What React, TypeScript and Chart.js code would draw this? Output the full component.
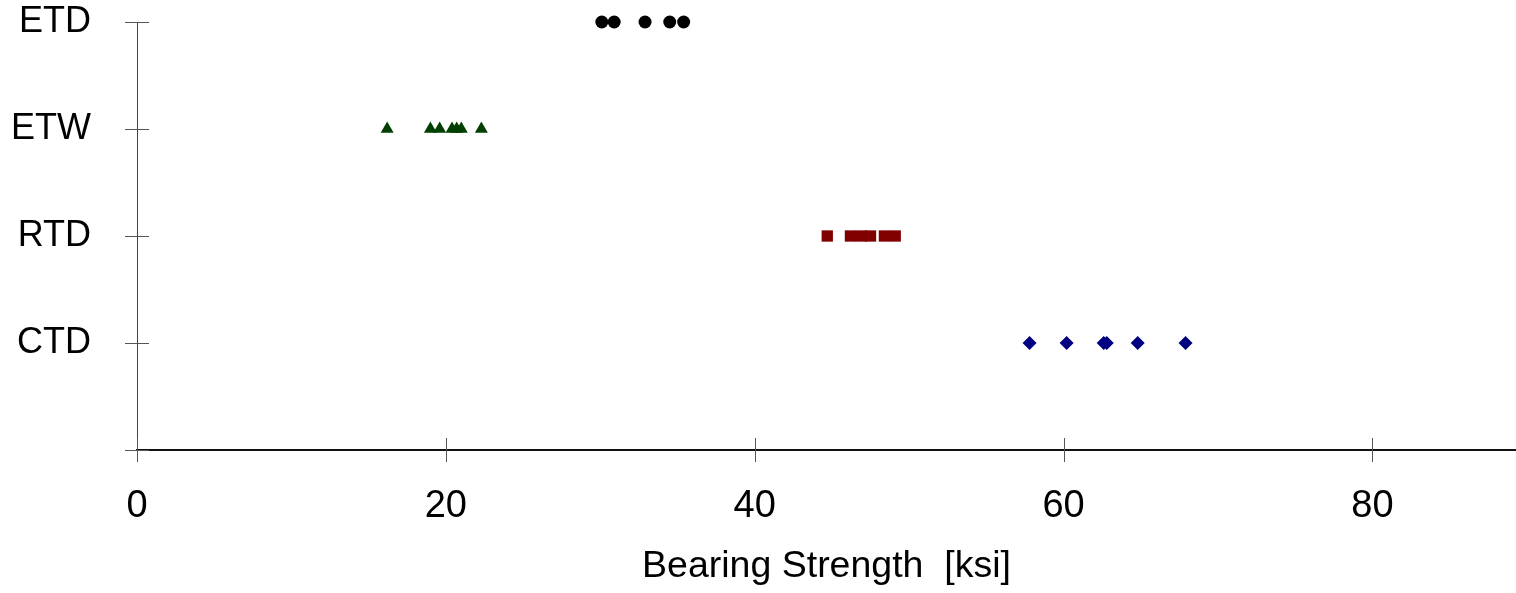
import React, { useEffect, useRef } from "react";
import { Chart, registerables } from "chart.js";

Chart.register(...registerables);

const categories = ["", "CTD", "RTD", "ETW", "ETD"];
const xTicks = [0, 20, 40, 60, 80];

const etdValues = [30.1, 30.9, 32.9, 34.5, 35.4];
const etwValues = [16.2, 19.0, 19.6, 20.4, 20.7, 21.0, 22.3];
const rtdValues = [44.7, 46.2, 46.9, 47.5, 48.4, 49.1];
const ctdValues = [57.8, 60.2, 62.6, 62.8, 64.8, 67.9];

const FONT = "'Liberation Sans', Arial, sans-serif";

const crossTicks = {
  id: "crossTicks",
  afterDraw(chart: any) {
    const ctx = chart.ctx;
    const xs = chart.scales.x;
    const ys = chart.scales.y;
    ctx.save();
    ctx.strokeStyle = "#555555";
    ctx.lineWidth = 1;
    const axisY = chart.chartArea.bottom;
    const axisX = chart.chartArea.left;
    xs.ticks.forEach((_t: any, i: number) => {
      const px = Math.round(xs.getPixelForTick(i)) + 0.5;
      ctx.beginPath();
      ctx.moveTo(px, axisY - 12);
      ctx.lineTo(px, axisY + 12);
      ctx.stroke();
    });
    ys.ticks.forEach((_t: any, i: number) => {
      const py = Math.round(ys.getPixelForTick(i)) + 0.5;
      ctx.beginPath();
      ctx.moveTo(axisX - 12, py);
      ctx.lineTo(axisX + 12, py);
      ctx.stroke();
    });
    ctx.restore();
  },
};

const zeroPad = (s: any) => {
  s.paddingTop = 0;
  s.paddingBottom = 0;
  s.paddingLeft = 0;
  s.paddingRight = 0;
};

export default function App() {
  const ref = useRef<HTMLCanvasElement | null>(null);
  useEffect(() => {
    if (!ref.current) return;
    const mk = (vals: number[], y: number) => vals.map((v) => ({ x: v, y }));
    const chart = new Chart(ref.current, {
      type: "scatter",
      data: {
        datasets: [
          { label: "ETD", data: mk(etdValues, 4), pointStyle: "circle", pointRadius: 6.5, backgroundColor: "#000000", borderColor: "#000000", borderWidth: 0 },
          { label: "ETW", data: mk(etwValues, 3), pointStyle: "triangle", pointRadius: 7.5, backgroundColor: "#003f00", borderColor: "#003f00", borderWidth: 0 },
          { label: "RTD", data: mk(rtdValues, 2), pointStyle: "rect", pointRadius: 8, backgroundColor: "#800000", borderColor: "#800000", borderWidth: 0 },
          { label: "CTD", data: mk(ctdValues, 1), pointStyle: "rectRot", pointRadius: 7, backgroundColor: "#000080", borderColor: "#000080", borderWidth: 0 },
        ],
      },
      options: {
        animation: false,
        responsive: false,
        maintainAspectRatio: false,
        clip: false,
        layout: { padding: { top: 22, right: 0, left: 0, bottom: 0 } },
        plugins: { legend: { display: false }, tooltip: { enabled: false } },
        scales: {
          x: {
            type: "linear",
            min: 0,
            max: 89.3,
            afterFit: (s: any) => { s.height = 143; zeroPad(s); },
            afterBuildTicks: (s: any) => { s.ticks = xTicks.map((v) => ({ value: v })); },
            grid: { display: true, drawOnChartArea: false, drawTicks: false },
            border: { display: true, color: "#111111", width: 2 },
            ticks: { color: "#000000", font: { family: FONT, size: 38 }, padding: 34, maxRotation: 0 },
            title: { display: true, text: "Bearing Strength  [ksi]", color: "#000000", font: { family: FONT, size: 37.5 }, padding: { top: 0, bottom: 4 } },
          },
          y: {
            type: "linear",
            min: 0,
            max: 4,
            afterFit: (s: any) => { s.width = 137; zeroPad(s); },
            afterBuildTicks: (s: any) => { s.ticks = categories.map((_c, i) => ({ value: i })); },
            grid: { display: true, drawOnChartArea: false, drawTicks: false },
            border: { display: true, color: "#444444", width: 1 },
            ticks: {
              color: "#000000",
              font: { family: FONT, size: 36 },
              padding: 46,
              callback: (v: any) => categories[Number(v)] ?? "",
            },
          },
        },
      },
      plugins: [crossTicks],
    } as any);
    return () => chart.destroy();
  }, []);
  return (
    <div style={{ position: "absolute", left: 0, top: 0, width: 1516, height: 593, background: "#ffffff", overflow: "hidden" }}>
      <canvas ref={ref} width={1524} height={593} style={{ width: 1524, height: 593, display: "block" }} />
    </div>
  );
}
